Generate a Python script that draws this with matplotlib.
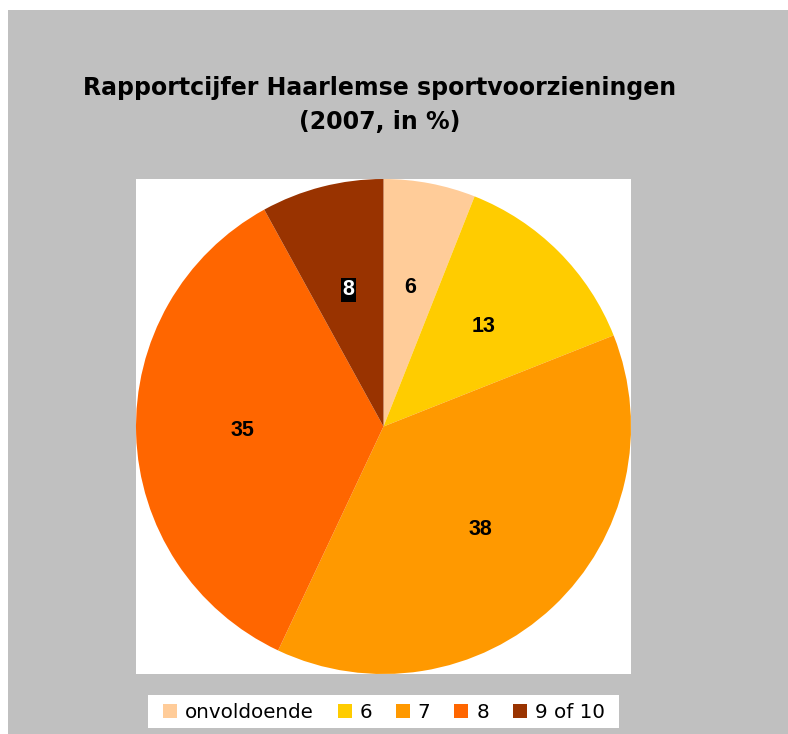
import matplotlib.pyplot as plt
from matplotlib.patches import Rectangle

# Data
categories = ['onvoldoende', '6', '7', '8', '9 of 10']
values = [6, 13, 38, 35, 8]
colors = ['#FFCC99', '#FFCC00', '#FF9900', '#FF6600', '#993300']

W, H = 788, 734
fig = plt.figure(figsize=(W / 100, H / 100), dpi=100)
fig.patch.set_facecolor('white')

# grey chart area
fig.patches.append(Rectangle((8 / W, 0), 1 - 8 / W, 1 - 10 / H, transform=fig.transFigure,
                             facecolor='#C0C0C0', edgecolor='none', zorder=-1))
# white legend box
fig.patches.append(Rectangle((148 / W, 1 - 728 / H), (619 - 148) / W, 33 / H,
                             transform=fig.transFigure, facecolor='white', edgecolor='none',
                             zorder=-0.5))

# white plot area
ax = fig.add_axes([136 / W, (H - 674) / H, (631 - 136) / W, (674 - 179) / H])
ax.set_facecolor('white')

wedges, texts = ax.pie(values, colors=colors, startangle=90, counterclock=False,
                       labels=[str(v) for v in values], labeldistance=0.57,
                       wedgeprops=dict(linewidth=0),
                       textprops=dict(fontsize=15.5, fontweight='bold', family='Liberation Sans',
                                      ha='center', va='center'))
ax.set_xlim(-1.0, 1.0)
ax.set_ylim(-1.0, 1.0)
ax.set_aspect('auto')
ax.axis('off')
ax.add_patch(Rectangle((0, 0), 1, 1, transform=ax.transAxes, facecolor='white',
                       edgecolor='none', zorder=-5))

# last label white on black
texts[-1].set_color('white')
texts[-1].set_bbox(dict(facecolor='black', edgecolor='none', pad=1))

fig.text(380 / W, 1 - 105 / H, 'Rapportcijfer Haarlemse sportvoorzieningen\n(2007, in %)',
         ha='center', va='center', fontsize=17, fontweight='bold', family='DejaVu Sans',
         linespacing=1.5)

leg = fig.legend(wedges, categories, loc='center', bbox_to_anchor=(384 / W, 1 - 712 / H),
                 ncol=5, frameon=False, handlelength=0.7, handleheight=0.7,
                 handletextpad=0.4, columnspacing=1.2, borderpad=0.2,
                 prop=dict(family='DejaVu Sans', size=14.3))

fig.savefig('out.png', dpi=100)
